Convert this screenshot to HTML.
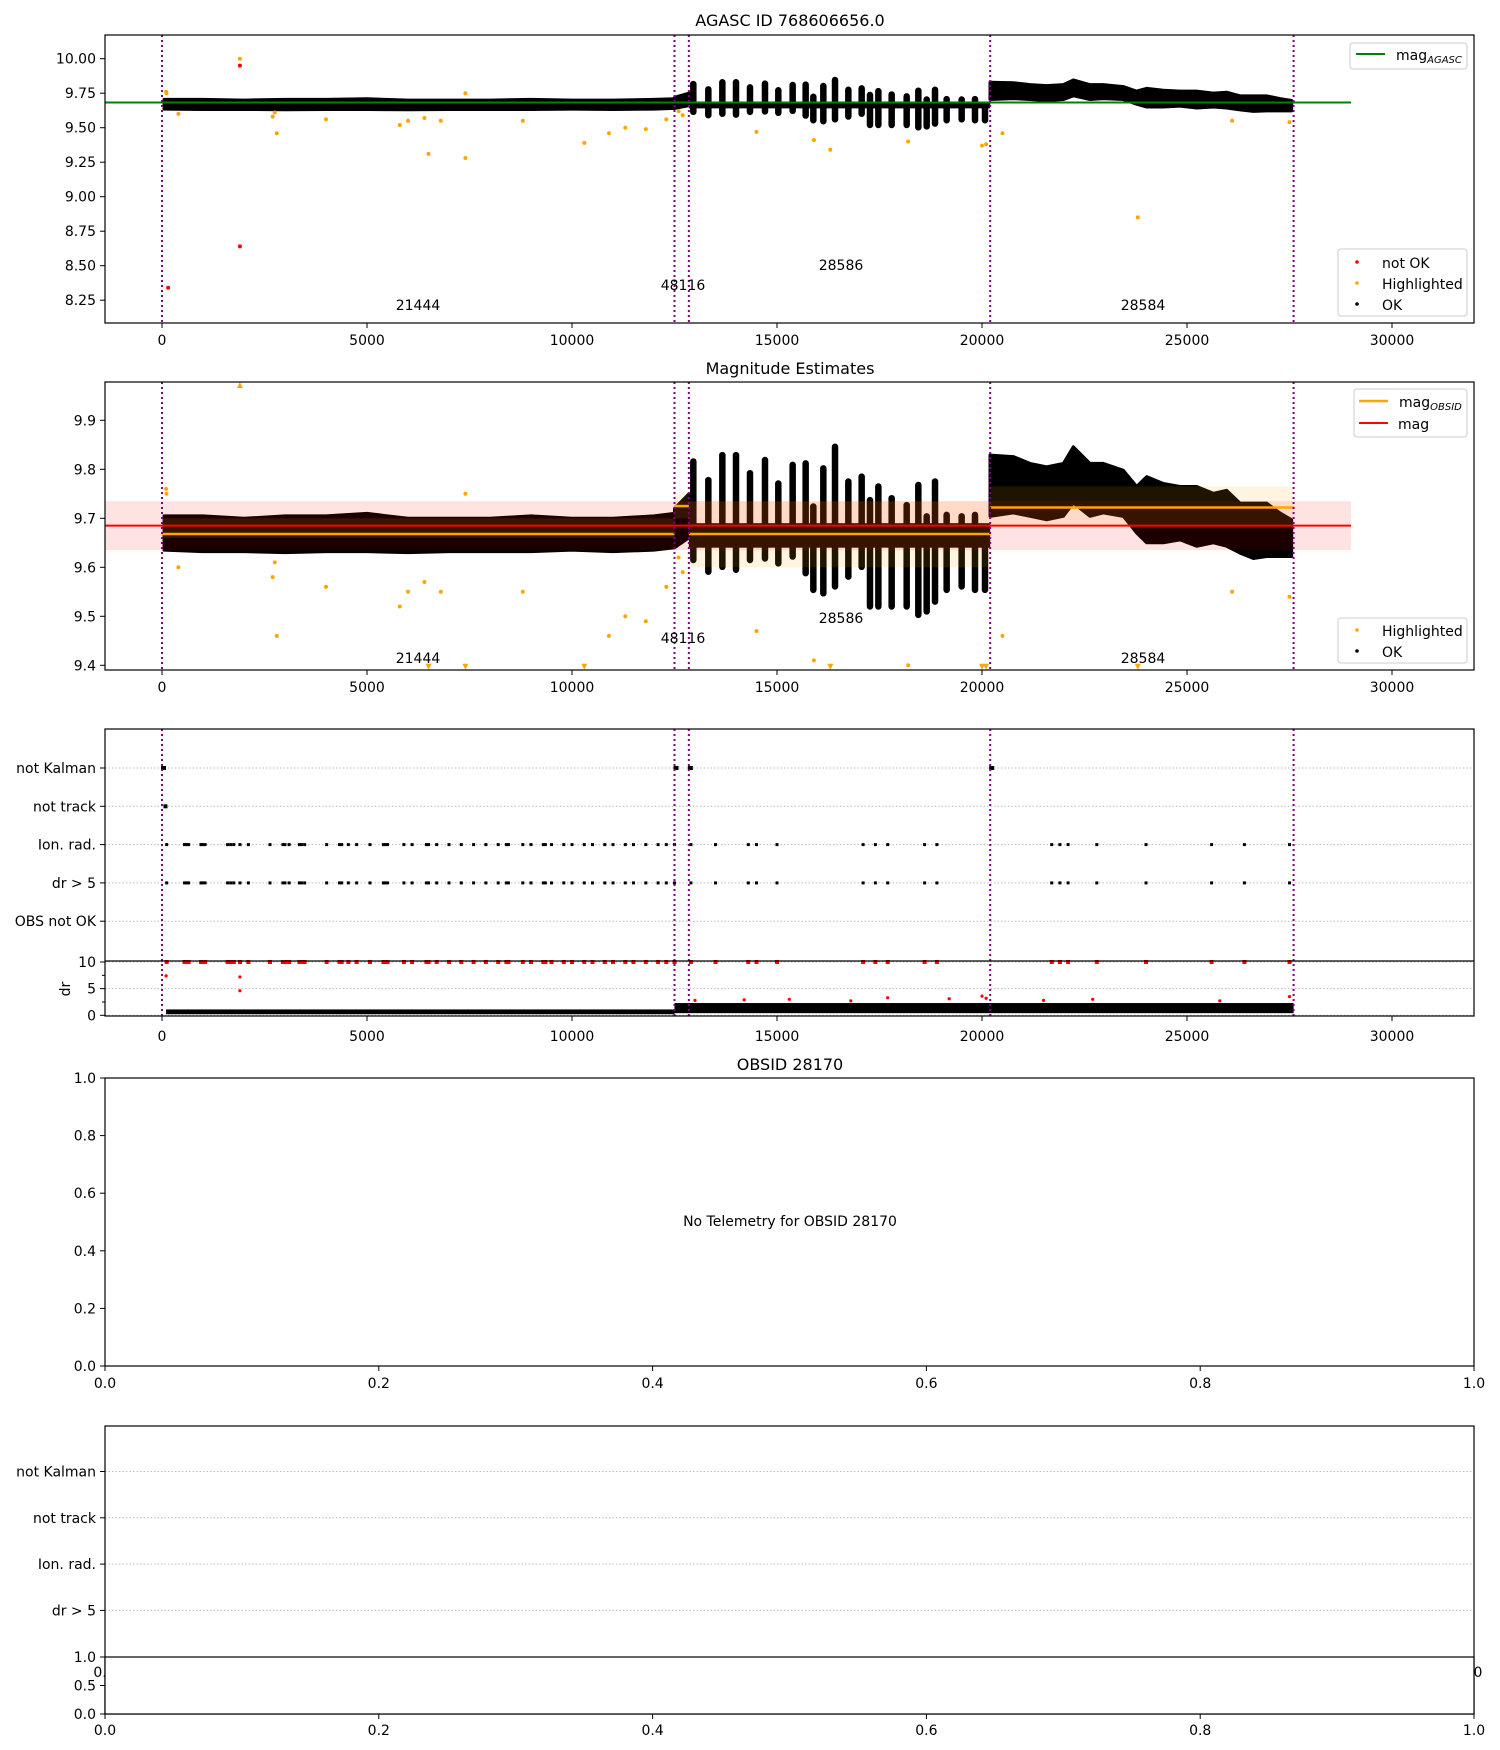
<!DOCTYPE html>
<html><head><meta charset="utf-8"><style>
html,body{margin:0;padding:0;background:#fff;width:1500px;height:1750px;overflow:hidden}
svg{font-family:"DejaVu Sans","Liberation Sans",sans-serif;}
text{fill:#000}
</style></head><body>
<svg id="chart" width="1500" height="1750" viewBox="0 0 1500 1750" xmlns="http://www.w3.org/2000/svg">
<defs>
<clipPath id="c1"><rect x="105" y="35" width="1369" height="288"/></clipPath>
<clipPath id="c2"><rect x="105" y="382" width="1369" height="288"/></clipPath>
<clipPath id="c3"><rect x="105" y="729" width="1369" height="287"/></clipPath>
</defs>
<g id="g1"></g>
<g id="g2"></g>
<g id="g3"></g>
<g id="g4"></g>
<g id="g5"></g>
</svg>
<script>
// ---- data ----
const obsBoundaries=[0,12500,12850,20200,27600];
const obsLabels=["21444","48116","28586","28584"];
const obsLabelX=[6244,12707,16561,23927];
const seg1X=[50,1000,2000,3000,4000,5000,6000,7000,8000,9000,10000,11000,12000,12500];
const seg1Top=[9.705,9.705,9.70,9.705,9.705,9.71,9.70,9.70,9.70,9.705,9.70,9.70,9.705,9.71];
const seg1Bot=[9.635,9.632,9.632,9.630,9.632,9.632,9.630,9.632,9.632,9.632,9.635,9.632,9.635,9.640];
const seg2X=[12500,12850];
const seg2Top=[9.72,9.75];
const seg2Bot=[9.64,9.66];
const spikeX=[12959,13325,13667,14000,14341,14707,15032,15382,15699,15886,16130,16415,16740,17065,17268,17472,17797,18163,18447,18651,18854,19138,19504,19829,20073];
const spikeTop=[9.816,9.778,9.829,9.829,9.792,9.819,9.771,9.809,9.812,9.724,9.802,9.846,9.775,9.785,9.737,9.765,9.741,9.727,9.768,9.704,9.775,9.707,9.704,9.707,9.642];
const spikeBot=[9.615,9.591,9.601,9.595,9.615,9.618,9.608,9.622,9.588,9.554,9.547,9.561,9.581,9.601,9.520,9.520,9.520,9.520,9.503,9.510,9.530,9.554,9.561,9.554,9.554];
const seg3BaseTop=9.69, seg3BaseBot=9.64;
const seg4X=[20195,20764,21171,21577,21984,22228,22634,22959,23447,23772,24016,24423,24829,25236,25642,25967,26293,26618,26943,27268,27553];
const seg4Top=[9.829,9.826,9.812,9.805,9.812,9.846,9.812,9.812,9.798,9.765,9.785,9.771,9.765,9.765,9.751,9.757,9.731,9.731,9.731,9.711,9.697];
const seg4Bot=[9.704,9.711,9.704,9.697,9.704,9.731,9.704,9.711,9.704,9.670,9.650,9.650,9.656,9.643,9.650,9.643,9.629,9.618,9.622,9.622,9.622];
const hlX=[100,110,400,1900,2700,2750,2800,4000,5800,6000,6400,6500,6800,7400,7400,8800,10300,10900,11300,11800,12300,12600,12700,14500,15900,16300,18200,20000,20100,20500,23800,26100,27500];
const hlY=[9.76,9.75,9.60,10.0,9.58,9.61,9.46,9.56,9.52,9.55,9.57,9.31,9.55,9.28,9.75,9.55,9.39,9.46,9.50,9.49,9.56,9.62,9.59,9.47,9.41,9.34,9.40,9.37,9.38,9.46,8.85,9.55,9.54];
const notOkX=[1900,1900,150];
const notOkY=[9.95,8.64,8.34];
const magAgasc=9.683;
const magMean=9.685, magStd=0.05;
const obsMagX0=[0,12500,12850,20200];
const obsMagX1=[12500,12850,20200,27600];
const obsMag=[9.668,9.725,9.668,9.722];
const obsMagLo=[9.66,9.70,9.60,9.68];
const obsMagHi=[9.70,9.75,9.735,9.765];
const flagRows=["not Kalman","not track","Ion. rad.","dr > 5","OBS not OK"];
const kalmanX=[0,12500,12850,20200];
const trackX=[60];
const ionX=[114,550,600,650,950,985,1050,1600,1675,1750,1902,2107,2634,2950,3000,3100,3350,3405,3480,4016,4330,4382,4545,4748,5073,5400,5439,5500,5900,6100,6450,6500,6700,7000,7300,7600,7900,8200,8400,8450,8800,9000,9300,9350,9500,9800,10000,10300,10500,10800,11000,11300,11500,11800,12100,12300,12500,12900,13500,14300,14500,15000,17100,17400,17700,18600,18900,21700,21900,22100,22800,24000,25600,26400,27500];
const drSegX0=[100,12500];
const drSegX1=[12500,27600];
const drSegLo=[0.2,0.4];
const drSegHi=[1.1,2.3];
const drRedX=[100,1900,1900,13000,14200,15300,16800,17700,19200,20000,20100,21500,22700,25800,27500];
const drRedY=[7.4,7.2,4.6,2.8,2.9,3.0,2.7,3.3,3.1,3.6,3.2,2.8,3.0,2.7,3.5];
const x1Ticks=[0,5000,10000,15000,20000,25000,30000];
const y1Ticks=[8.25,8.5,8.75,9.0,9.25,9.5,9.75,10.0];
const y2Ticks=[9.4,9.5,9.6,9.7,9.8,9.9];
const fracTicks=[0,0.2,0.4,0.6,0.8,1.0];

// ---- scales ----
const NS="http://www.w3.org/2000/svg";
const XL=105, XR=1474;
const xs=v=>162+0.041*v;
const y1=v=>58.7+(10-v)*138;
const y2=v=>665.3-(v-9.4)*490;
const yf=i=>768+38.3*i;
const yd=v=>1015.3-v*5.33;
function el(parent,tag,attrs){const e=document.createElementNS(NS,tag);for(const k in attrs)e.setAttribute(k,attrs[k]);parent.appendChild(e);return e;}
function txt(parent,x,y,s,anchor,size){const t=el(parent,'text',{x:x,y:y,'text-anchor':anchor||'middle','font-size':size||14});t.textContent=s;return t;}
const g1=document.getElementById('g1'),g2=document.getElementById('g2'),g3=document.getElementById('g3'),g4=document.getElementById('g4'),g5=document.getElementById('g5');

function xAxis(g,yb,labY){
  x1Ticks.forEach(v=>{el(g,'line',{x1:xs(v),x2:xs(v),y1:yb,y2:yb+5,stroke:'#000'});
    const t=txt(g,xs(v),labY,String(v));
    
    });
}
function vlines(g,top,bot){
  obsBoundaries.forEach(b=>{const l=el(g,'line',{x1:xs(b),x2:xs(b),y1:top,y2:bot,stroke:'purple','stroke-width':2,'stroke-dasharray':'2,3'});
    
    });
}
function polyBand(g,xsArr,top,bot,ys,fill){
  let pts=[];for(let i=0;i<xsArr.length;i++)pts.push(xs(xsArr[i])+','+ys(top[i]));
  for(let i=xsArr.length-1;i>=0;i--)pts.push(xs(xsArr[i])+','+ys(bot[i]));
  const p=el(g,'polygon',{points:pts.join(' '),fill:fill,stroke:fill,'stroke-width':3,'stroke-linejoin':'round'});
  
  
}
function drawMag(g,ys){
  polyBand(g,seg1X,seg1Top,seg1Bot,ys,'#000');
  polyBand(g,seg2X,seg2Top,seg2Bot,ys,'#000');
  const b=el(g,'rect',{x:xs(12850),y:ys(seg3BaseTop),width:xs(20200)-xs(12850),height:ys(seg3BaseBot)-ys(seg3BaseTop),fill:'#000'});
  
  
  spikeX.forEach((x,i)=>{const l=el(g,'line',{x1:xs(x),x2:xs(x),y1:ys(spikeTop[i]),y2:ys(spikeBot[i]),stroke:'#000','stroke-width':6.5,'stroke-linecap':'round'});
    
    });
  polyBand(g,seg4X,seg4Top,seg4Bot,ys,'#000');
}
function legendBox(g,x,y,w,h){el(g,'rect',{x:x,y:y,width:w,height:h,rx:3,fill:'#fff','fill-opacity':0.85,stroke:'#ccc'});}

// ---- panel 1 ----
(function(){
  const d=el(g1,'g',{'clip-path':'url(#c1)'});
  drawMag(d,y1);
  hlX.forEach((x,i)=>{const c=el(d,'circle',{cx:xs(x),cy:y1(hlY[i]),r:2,fill:'orange'});
    
    });
  notOkX.forEach((x,i)=>{const c=el(d,'circle',{cx:xs(x),cy:y1(notOkY[i]),r:2,fill:'red'});
    
    });
  const gl=el(d,'line',{x1:XL,x2:xs(29000),y1:y1(magAgasc),y2:y1(magAgasc),stroke:'green','stroke-width':2});
  
  
  vlines(d,35,323);
  obsLabels.forEach((s,i)=>{const yy=[310,290,270,310][i];const t=txt(g1,xs(obsLabelX[i]),yy,s);
    
    });
  el(g1,'rect',{x:XL,y:35,width:XR-XL,height:288,fill:'none',stroke:'#000','stroke-width':1.2});
  y1Ticks.forEach(v=>{el(g1,'line',{x1:XL-5,x2:XL,y1:y1(v),y2:y1(v),stroke:'#000'});
    const t=txt(g1,XL-9,y1(v)+5,v.toFixed(2),'end');
    
    });
  xAxis(g1,323,345);
  const ti=txt(g1,790,26,'AGASC ID 768606656.0','middle',16);
  
  
  const lg=el(g1,'g',{});
  legendBox(lg,1350,43,117,26);
  el(lg,'line',{x1:1356,x2:1385,y1:54,y2:54,stroke:'green','stroke-width':2});
  const t1=el(lg,'text',{x:1396,y:60,'font-size':14});t1.innerHTML='mag<tspan font-size="10" font-style="italic" dy="3">AGASC</tspan>';
  const lg2=el(g1,'g',{});
  legendBox(lg2,1338,249,129,67);
  [['red','not OK',262],['orange','Highlighted',283],['#000','OK',304]].forEach(a=>{el(lg2,'circle',{cx:1357,cy:a[2],r:1.8,fill:a[0]});txt(lg2,1382,a[2]+6,a[1],'start');});
})();

// ---- panel 2 ----
(function(){
  const d=el(g2,'g',{'clip-path':'url(#c2)'});
  drawMag(d,y2);
  hlX.forEach((x,i)=>{const v=hlY[i];
    if(v<9.4||v>9.975){const yy=v<9.4?y2(9.397):y2(9.972);const up=v>9.975;
      const p=el(d,'polygon',{points:up?`${xs(x)-3},${yy+3} ${xs(x)+3},${yy+3} ${xs(x)},${yy-3}`:`${xs(x)-3},${yy-3} ${xs(x)+3},${yy-3} ${xs(x)},${yy+3}`,fill:'orange'});
      
      }
    else{const c=el(d,'circle',{cx:xs(x),cy:y2(v),r:2,fill:'orange'});
      
      }});
  const mb=el(d,'rect',{x:XL,y:y2(magMean+magStd),width:xs(29000)-XL,height:y2(magMean-magStd)-y2(magMean+magStd),fill:'red','fill-opacity':0.11});
  
  
  obsMag.forEach((m,i)=>{const r=el(d,'rect',{x:xs(obsMagX0[i]),y:y2(obsMagHi[i]),width:xs(obsMagX1[i])-xs(obsMagX0[i]),height:y2(obsMagLo[i])-y2(obsMagHi[i]),fill:'orange','fill-opacity':0.12});
    
    
    const l=el(d,'line',{x1:xs(obsMagX0[i]),x2:xs(obsMagX1[i]),y1:y2(m),y2:y2(m),stroke:'orange','stroke-width':2.5});
    
    });
  const rl=el(d,'line',{x1:XL,x2:xs(29000),y1:y2(magMean),y2:y2(magMean),stroke:'red','stroke-width':2});
  
  
  vlines(d,382,670);
  obsLabels.forEach((s,i)=>{const yy=[663,643,623,663][i];const t=txt(g2,xs(obsLabelX[i]),yy,s);
    
    });
  el(g2,'rect',{x:XL,y:382,width:XR-XL,height:288,fill:'none',stroke:'#000','stroke-width':1.2});
  y2Ticks.forEach(v=>{el(g2,'line',{x1:XL-5,x2:XL,y1:y2(v),y2:y2(v),stroke:'#000'});
    const t=txt(g2,XL-9,y2(v)+5,v.toFixed(1),'end');
    
    });
  xAxis(g2,670,692);
  const ti=txt(g2,790,374,'Magnitude Estimates','middle',16);
  
  
  const lg=el(g2,'g',{});
  legendBox(lg,1354,389,113,48);
  el(lg,'line',{x1:1359,x2:1388,y1:401,y2:401,stroke:'orange','stroke-width':2.5});
  const t1=el(lg,'text',{x:1399,y:407,'font-size':14});t1.innerHTML='mag<tspan font-size="10" font-style="italic" dy="3">OBSID</tspan>';
  el(lg,'line',{x1:1359,x2:1388,y1:423,y2:423,stroke:'red','stroke-width':2});
  txt(lg,1398,429,'mag','start');
  const lg2=el(g2,'g',{});
  legendBox(lg2,1338,618,129,45);
  [['orange','Highlighted',630],['#000','OK',651]].forEach(a=>{el(lg2,'circle',{cx:1357,cy:a[2],r:1.8,fill:a[0]});txt(lg2,1382,a[2]+6,a[1],'start');});
})();

// ---- panel 3 ----
(function(){
  const d=el(g3,'g',{'clip-path':'url(#c3)'});
  flagRows.forEach((r,i)=>{el(d,'line',{x1:XL,x2:XR,y1:yf(i),y2:yf(i),stroke:'#bbb','stroke-dasharray':'1.5,2'});});
  [0,5,10].forEach(v=>el(d,'line',{x1:XL,x2:XR,y1:yd(v),y2:yd(v),stroke:'#bbb','stroke-dasharray':'1.5,2'}));
  kalmanX.forEach(x=>{const r=el(d,'rect',{x:xs(x)-1,y:yf(0)-2,width:5,height:4,fill:'#000'});
    
    });
  trackX.forEach(x=>{const r=el(d,'rect',{x:xs(x)-1,y:yf(1)-2,width:4,height:4,fill:'#000'});
    
    });
  ionX.forEach(x=>{[2,3].forEach(row=>{const r=el(d,'rect',{x:xs(x)-1.5,y:yf(row)-1.5,width:3,height:3,fill:'#000'});
      
      });
    const c=el(d,'rect',{x:xs(x)-2,y:yd(10)-2,width:4,height:4,fill:'red'});
    
    });
  drSegLo.forEach((lo,i)=>{const r=el(d,'rect',{x:xs(drSegX0[i]),y:yd(drSegHi[i]),width:xs(drSegX1[i])-xs(drSegX0[i]),height:yd(lo)-yd(drSegHi[i]),fill:'#000'});
    
    });
  drRedX.forEach((x,i)=>{const c=el(d,'circle',{cx:xs(x),cy:yd(drRedY[i]),r:1.6,fill:'red'});
    
    });
  vlines(d,729,1016);
  el(g3,'rect',{x:XL,y:729,width:XR-XL,height:287,fill:'none',stroke:'#000','stroke-width':1.2});
  el(g3,'line',{x1:XL,x2:XR,y1:961,y2:961,stroke:'#000','stroke-width':1.2});
  flagRows.forEach((r,i)=>{el(g3,'line',{x1:XL-5,x2:XL,y1:yf(i),y2:yf(i),stroke:'#000'});
    const t=txt(g3,XL-9,yf(i)+5,r,'end');
    
    });
  [0,5,10].forEach(v=>{el(g3,'line',{x1:XL-5,x2:XL,y1:yd(v),y2:yd(v),stroke:'#000'});
    const t=txt(g3,XL-9,yd(v)+5,String(v),'end');
    
    });
  [2.5,7.5].forEach(v=>el(g3,'line',{x1:XL-3,x2:XL,y1:yd(v),y2:yd(v),stroke:'#000'}));
  const yl=el(g3,'text',{x:0,y:0,'font-size':14,'text-anchor':'middle',transform:'translate(70,989) rotate(-90)'});yl.textContent='dr';
  
  
  xAxis(g3,1016,1041);
})();

// ---- panel 4 ----
(function(){
  const top=1078,bot=1366;
  const fy=f=>bot-f*(bot-top), fx=f=>XL+f*(XR-XL);
  el(g4,'rect',{x:XL,y:top,width:XR-XL,height:bot-top,fill:'none',stroke:'#000','stroke-width':1.2});
  fracTicks.forEach(f=>{el(g4,'line',{x1:XL-5,x2:XL,y1:fy(f),y2:fy(f),stroke:'#000'});
    const t=txt(g4,XL-9,fy(f)+5,f.toFixed(1),'end');
    el(g4,'line',{x1:fx(f),x2:fx(f),y1:bot,y2:bot+5,stroke:'#000'});
    const u=txt(g4,fx(f),bot+22,f.toFixed(1));});
  const ti=txt(g4,790,1070,'OBSID 28170','middle',16);
  const nt=txt(g4,790,1226,'No Telemetry for OBSID 28170','middle',14);
})();

// ---- panel 5 ----
(function(){
  const top=1426,mid=1657,bot=1714;
  const ry=i=>1471.5+46.3*i;
  const fx=f=>XL+f*(XR-XL);
  flagRows.slice(0,4).forEach((r,i)=>{el(g5,'line',{x1:XL,x2:XR,y1:ry(i),y2:ry(i),stroke:'#bbb','stroke-dasharray':'1.5,2'});
    el(g5,'line',{x1:XL-5,x2:XL,y1:ry(i),y2:ry(i),stroke:'#000'});
    const t=txt(g5,XL-9,ry(i)+5,r,'end');});
  txt(g5,XL-5,1677,'0.','middle');txt(g5,XR+4,1677,'0','middle');
  el(g5,'rect',{x:XL,y:top,width:XR-XL,height:bot-top,fill:'none',stroke:'#000','stroke-width':1.2});
  el(g5,'rect',{x:XL,y:mid,width:XR-XL,height:bot-mid,fill:'#fff',stroke:'#000','stroke-width':1.2});
  [[0,bot],[0.5,1685.5],[1,mid]].forEach(a=>{el(g5,'line',{x1:XL-5,x2:XL,y1:a[1],y2:a[1],stroke:'#000'});
    const t=txt(g5,XL-9,a[1]+5,a[0].toFixed(1),'end');});
  fracTicks.forEach(f=>{el(g5,'line',{x1:fx(f),x2:fx(f),y1:bot,y2:bot+5,stroke:'#000'});
    const u=txt(g5,fx(f),bot+21,f.toFixed(1));});
})();
</script>
</body></html>
